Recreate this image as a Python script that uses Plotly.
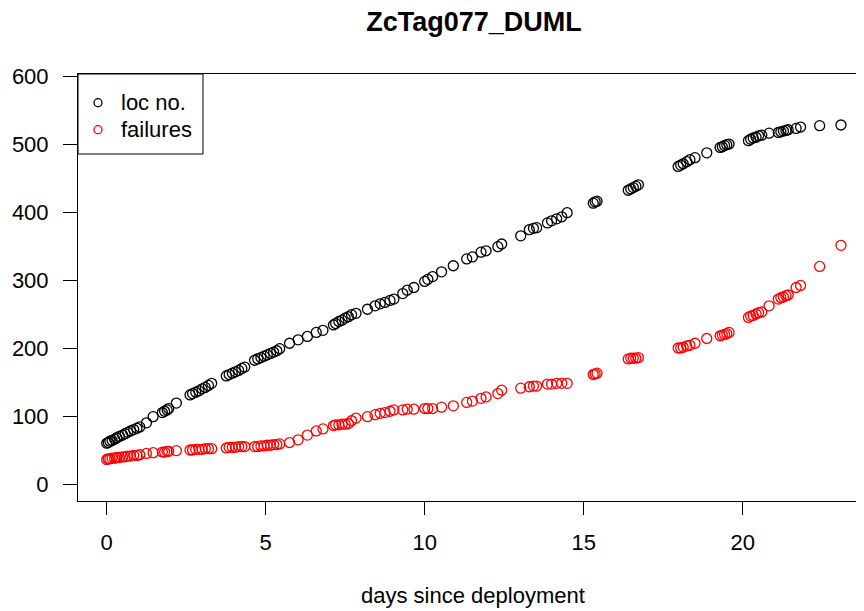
import plotly.graph_objects as go

# time of each location fix (days since deployment)
days = [0.00, 0.05, 0.10, 0.17, 0.25, 0.32, 0.40, 0.50, 0.58, 0.66, 0.75, 0.85, 0.95, 1.04,
        1.25, 1.46, 1.75, 1.82, 1.90, 1.95, 2.19,
        2.62, 2.70, 2.80, 2.90, 3.00, 3.10, 3.20, 3.30,
        3.76, 3.85, 3.95, 4.05, 4.15, 4.25, 4.34,
        4.65, 4.75, 4.85, 4.95, 5.05, 5.15, 5.25, 5.35, 5.44,
        5.75, 6.02, 6.31, 6.59, 6.80,
        7.13, 7.20, 7.30, 7.40, 7.50, 7.60, 7.70,
        7.84, 8.20, 8.44, 8.60, 8.75, 8.91, 9.03, 9.31, 9.45, 9.66,
        10.00, 10.10, 10.25, 10.53, 10.90, 11.32, 11.50, 11.77, 11.93,
        12.30, 12.42, 13.02, 13.29, 13.42, 13.52, 13.86, 13.99, 14.15, 14.31, 14.48,
        15.30, 15.36, 15.42,
        16.40, 16.48, 16.56, 16.64, 16.72,
        17.97, 18.05, 18.13, 18.24, 18.34, 18.50, 18.87,
        19.29, 19.36, 19.43, 19.50, 19.57,
        20.18, 20.25, 20.33, 20.42, 20.50, 20.60, 20.83,
        21.12, 21.20, 21.28, 21.36, 21.43, 21.68, 21.82,
        22.42, 23.09]

loc_no = [60, 61, 63, 64, 66, 68, 70, 72, 74, 76, 78, 80, 82, 84,
          90, 99, 105, 107, 109, 111, 119,
          131, 133, 135, 137, 140, 142, 145, 148,
          159, 161, 163, 165, 167, 170, 172,
          182, 184, 186, 188, 190, 192, 194, 196, 199,
          207, 212, 217, 223, 226,
          234, 236, 239, 241, 244, 246, 249,
          251, 257, 262, 265, 267, 270, 272, 280, 285, 289,
          298, 301, 305, 312, 321, 331, 334, 341, 343,
          349, 353, 365, 374, 376, 377, 384, 387, 390, 393, 399,
          413, 415, 416,
          432, 434, 436, 438, 440,
          467, 469, 471, 474, 477, 480, 487,
          495, 496, 498, 499, 500,
          505, 507, 509, 510, 512, 513, 516,
          517, 518, 519, 520, 521, 523, 525,
          527, 528]

failures = [36, 37, 37, 38, 38, 39, 39, 40, 40, 41, 41, 42, 42, 43,
            45, 46, 47, 47, 48, 48, 49,
            50, 50, 51, 51, 51, 52, 52, 52,
            53, 54, 54, 54, 55, 55, 55,
            55, 55, 56, 56, 57, 57, 58, 58, 59,
            61, 65, 72, 78, 81,
            86, 87, 87, 88, 88, 89, 93,
            97, 99, 102, 104, 105, 107, 109, 109, 110, 110,
            111, 111, 111, 113, 115, 120, 122, 126, 128,
            133, 138, 141, 143, 144, 144, 147, 147, 148, 148, 148,
            161, 162, 163,
            184, 185, 185, 185, 186,
            200, 200, 201, 203, 204, 207, 214,
            218, 219, 220, 221, 223,
            245, 247, 248, 250, 252, 253, 262,
            272, 274, 275, 277, 278, 289, 292,
            320, 351]

series_names = ["loc no.", "failures"]
series_colors = ["black", "red"]
x_ticks = [0, 5, 10, 15, 20]
y_ticks = [0, 100, 200, 300, 400, 500, 600]

FONT = "Liberation Sans, Arial, sans-serif"
W, H = 864, 611
# the page body has an 8px margin, so figure coordinates are screen - 8
ML, MT, MB, MR = 70, 66, 118, 2
PW, PH = W - ML - MR, H - MT - MB

fig = go.Figure()
for name, ys, col in zip(series_names, [loc_no, failures], series_colors):
    fig.add_trace(go.Scatter(x=days, y=ys, mode="markers", name=name, showlegend=False,
                             marker=dict(symbol="circle-open", size=10, color=col,
                                         line=dict(width=1.3, color=col))))

# hand-drawn legend box (R style)
shapes = [dict(type="rect", xref="paper", yref="paper", x0=0, x1=125 / PW,
               y0=1 - 80 / PH, y1=1, line=dict(color="black", width=1))]
annotations = []
row_px = [28.7, 55.7]  # row centres below plot top
for name, col, ry in zip(series_names, series_colors, row_px):
    yp = 1 - ry / PH
    shapes.append(dict(type="circle", xref="paper", yref="paper",
                       xsizemode="pixel", ysizemode="pixel",
                       xanchor=20 / PW, yanchor=yp, x0=-4, x1=4, y0=-4, y1=4,
                       line=dict(color=col, width=1.3)))
    annotations.append(dict(text=name, xref="paper", yref="paper", x=41 / PW, y=yp,
                            xanchor="left", yanchor="middle", showarrow=False,
                            font=dict(family=FONT, size=22, color="black")))

annotations.append(dict(text="days since deployment", xref="paper", yref="paper",
                        x=(465 - ML) / PW, y=-(587 - (MT + PH)) / PH,
                        xanchor="center", yanchor="middle", showarrow=False,
                        font=dict(family=FONT, size=22, color="black")))

fig.update_layout(
    width=W, height=H,
    margin=dict(l=ML, r=MR, t=MT, b=MB, autoexpand=False),
    paper_bgcolor="white", plot_bgcolor="white",
    font=dict(family=FONT, size=22, color="black"),
    title=dict(text="<b>ZcTag077_DUML</b>", x=(466 - ML) / PW, xref="paper",
               y=1 - 14 / H, yref="container", xanchor="center", yanchor="middle",
               automargin=False, font=dict(family=FONT, size=27, color="black")),
    showlegend=False,
    shapes=shapes,
    annotations=annotations,
)
fig.update_xaxes(range=[-0.9025, -0.9025 + PW / 31.8], tickvals=x_ticks, showgrid=False,
                 zeroline=False, automargin=False,
                 showline=True, mirror=True, linecolor="black", linewidth=1,
                 ticks="outside", ticklen=13, tickcolor="black", tickwidth=1,
                 ticklabelstandoff=9)
fig.update_yaxes(range=[-25, 603], tickvals=y_ticks, showgrid=False, zeroline=False,
                 automargin=False,
                 showline=True, mirror=False, linecolor="black", linewidth=1,
                 ticks="outside", ticklen=14, tickcolor="black", tickwidth=1,
                 ticklabelstandoff=10)

fig.write_html("out.html")
